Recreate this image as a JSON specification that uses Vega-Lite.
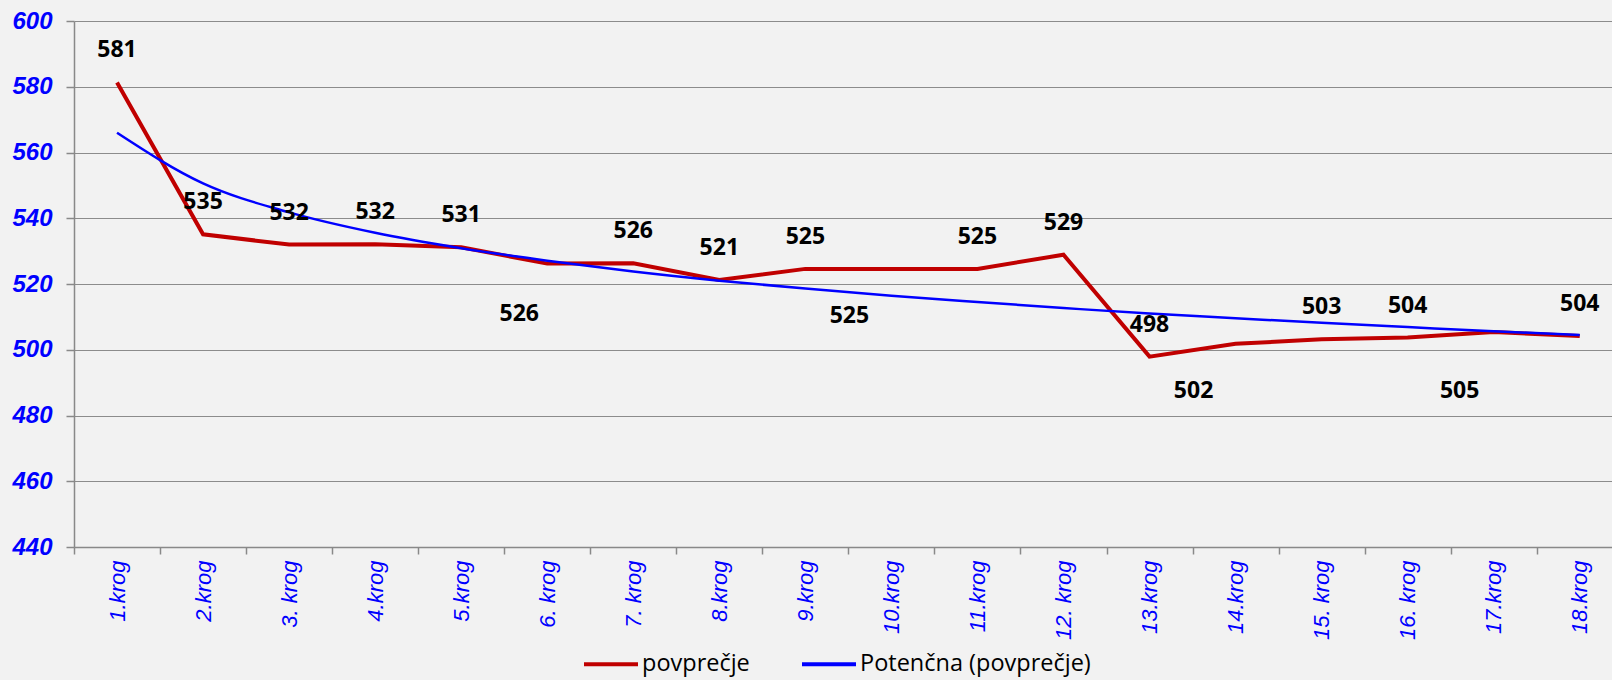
{
  "$schema": "https://vega.github.io/schema/vega-lite/v6.json",
  "autosize": {"type": "none"},
  "width": 1538,
  "height": 526,
  "padding": {"left": 74, "top": 21, "right": 0, "bottom": 133},
  "background": "#F2F2F2",
  "config": {
    "view": {"stroke": null},
    "axis": {"domainColor": "#898989", "tickColor": "#898989", "gridColor": "#8C8C8C", "domainWidth": 1.5, "tickWidth": 1.5, "gridWidth": 1.2}
  },
  "data": {
    "values": [
      {"k": 1, "krog": "1.krog", "povprecje": 581.3, "trend": 566.0},
      {"k": 2, "krog": "2.krog", "povprecje": 535.1, "trend": 550.6},
      {"k": 3, "krog": "3. krog", "povprecje": 532.0, "trend": 541.8},
      {"k": 4, "krog": "4.krog", "povprecje": 532.1, "trend": 535.6},
      {"k": 5, "krog": "5.krog", "povprecje": 531.2, "trend": 530.9},
      {"k": 6, "krog": "6. krog", "povprecje": 526.2, "trend": 527.1},
      {"k": 7, "krog": "7. krog", "povprecje": 526.3, "trend": 523.8},
      {"k": 8, "krog": "8.krog", "povprecje": 521.2, "trend": 521.0},
      {"k": 9, "krog": "9.krog", "povprecje": 524.6, "trend": 518.6},
      {"k": 10, "krog": "10.krog", "povprecje": 524.6, "trend": 516.4},
      {"k": 11, "krog": "11.krog", "povprecje": 524.6, "trend": 514.5},
      {"k": 12, "krog": "12. krog", "povprecje": 528.9, "trend": 512.7},
      {"k": 13, "krog": "13.krog", "povprecje": 497.9, "trend": 511.0},
      {"k": 14, "krog": "14.krog", "povprecje": 501.8, "trend": 509.6},
      {"k": 15, "krog": "15. krog", "povprecje": 503.2, "trend": 508.2},
      {"k": 16, "krog": "16. krog", "povprecje": 503.7, "trend": 506.9},
      {"k": 17, "krog": "17.krog", "povprecje": 505.4, "trend": 505.6},
      {"k": 18, "krog": "18.krog", "povprecje": 504.2, "trend": 504.5}
    ]
  },
  "layer": [
    {
      "mark": {"type": "line", "strokeWidth": 4, "color": "#C00000"},
      "encoding": {
        "x": {
          "field": "k", "type": "quantitative",
          "scale": {"domain": [0.5, 18.375], "nice": false, "zero": false},
          "axis": {
            "title": null,
            "values": [0.5, 1.5, 2.5, 3.5, 4.5, 5.5, 6.5, 7.5, 8.5, 9.5, 10.5, 11.5, 12.5, 13.5, 14.5, 15.5, 16.5, 17.5],
            "labelExpr": "['1.krog','2.krog','3. krog','4.krog','5.krog','6. krog','7. krog','8.krog','9.krog','10.krog','11.krog','12. krog','13.krog','14.krog','15. krog','16. krog','17.krog','18.krog'][floor(datum.value)]",
            "labelOffset": 43,
            "labelAngle": -90,
            "labelFont": "Liberation Sans",
            "labelFontStyle": "italic",
            "labelFontSize": 22,
            "labelColor": "#0000FF",
            "labelOverlap": false,
            "labelBound": false,
            "labelFlush": false,
            "labelPadding": 6,
            "tickSize": 7,
            "grid": false
          }
        },
        "y": {
          "field": "povprecje", "type": "quantitative",
          "scale": {"domain": [440, 600], "nice": false, "zero": false},
          "axis": {
            "title": null,
            "values": [440, 460, 480, 500, 520, 540, 560, 580, 600],
            "grid": true,
            "tickSize": 8,
            "labelPadding": 14,
            "labelFont": "Liberation Sans Narrow, Liberation Sans",
            "labelFontStyle": "italic",
            "labelFontWeight": "bold",
            "labelFontSize": 24,
            "labelColor": "#0000FF"
          }
        },
        "color": {
          "datum": "povprečje", "type": "nominal",
          "scale": {"domain": ["povprečje", "Potenčna (povprečje)"], "range": ["#C00000", "#0000FF"]},
          "legend": {
            "title": null,
            "orient": "none",
            "direction": "horizontal",
            "legendX": 508,
            "legendY": 614,
            "symbolType": "stroke",
            "symbolSize": 2916,
            "symbolStrokeWidth": 4,
            "labelFont": "Open Sans",
            "labelFontSize": 23.5,
            "labelColor": "#000000",
            "labelOffset": 2,
            "labelLimit": 0,
            "columnPadding": 44
          }
        }
      }
    },
    {
      "mark": {"type": "line", "strokeWidth": 2.5, "interpolate": "monotone"},
      "encoding": {
        "x": {"field": "k", "type": "quantitative"},
        "y": {"field": "trend", "type": "quantitative"},
        "color": {"datum": "Potenčna (povprečje)", "type": "nominal"}
      }
    },
    {
      "transform": [{"filter": {"not": {"field": "k", "oneOf": [6, 10, 14, 17]}}}],
      "mark": {"type": "text", "font": "Open Sans", "fontWeight": "bold", "fontSize": 23, "color": "#000000", "dy": -32, "baseline": "middle"},
      "encoding": {
        "x": {"field": "k", "type": "quantitative"},
        "y": {"field": "povprecje", "type": "quantitative"},
        "text": {"field": "povprecje", "type": "quantitative", "format": ".0f"}
      }
    },
    {
      "transform": [{"filter": {"field": "k", "oneOf": [6]}}],
      "mark": {"type": "text", "font": "Open Sans", "fontWeight": "bold", "fontSize": 23, "color": "#000000", "dy": 50, "dx": -28, "baseline": "middle"},
      "encoding": {
        "x": {"field": "k", "type": "quantitative"},
        "y": {"field": "povprecje", "type": "quantitative"},
        "text": {"field": "povprecje", "type": "quantitative", "format": ".0f"}
      }
    },
    {
      "transform": [{"filter": {"field": "k", "oneOf": [10, 14]}}],
      "mark": {"type": "text", "font": "Open Sans", "fontWeight": "bold", "fontSize": 23, "color": "#000000", "dy": 47, "dx": -42, "baseline": "middle"},
      "encoding": {
        "x": {"field": "k", "type": "quantitative"},
        "y": {"field": "povprecje", "type": "quantitative"},
        "text": {"field": "povprecje", "type": "quantitative", "format": ".0f"}
      }
    },
    {
      "transform": [{"filter": {"field": "k", "oneOf": [17]}}],
      "mark": {"type": "text", "font": "Open Sans", "fontWeight": "bold", "fontSize": 23, "color": "#000000", "dy": 59, "dx": -34, "baseline": "middle"},
      "encoding": {
        "x": {"field": "k", "type": "quantitative"},
        "y": {"field": "povprecje", "type": "quantitative"},
        "text": {"field": "povprecje", "type": "quantitative", "format": ".0f"}
      }
    }
  ]
}
